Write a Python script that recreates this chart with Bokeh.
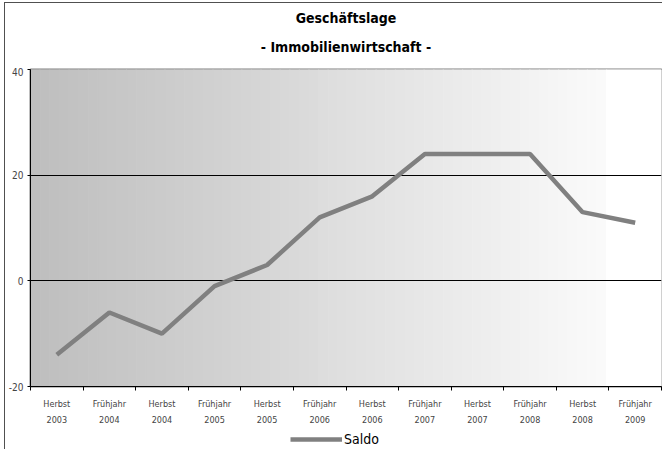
import numpy as np
from bokeh.plotting import figure
from bokeh.layouts import column
from bokeh.core.properties import value
from bokeh.models import FixedTicker, Range1d, Legend, LegendItem
from bokeh.embed import file_html
from bokeh.resources import INLINE

categories = ["Herbst\n2003", "Frühjahr\n2004", "Herbst\n2004", "Frühjahr\n2005",
              "Herbst\n2005", "Frühjahr\n2006", "Herbst\n2006", "Frühjahr\n2007",
              "Herbst\n2007", "Frühjahr\n2008", "Herbst\n2008", "Frühjahr\n2009"]
saldo = [-14, -6, -10, -1, 3, 12, 16, 24, 24, 24, 13, 11]
y_ticks = [-20, 0, 20, 40]
series_name = "Saldo"
title_lines = ["Geschäftslage", "- Immobilienwirtschaft -"]

FONT = "DejaVu Sans Condensed"
LINE_COLOR = "#808080"
W = 657

# ---------- title strip ----------
TH = 64
top = figure(width=W, height=TH, output_backend="svg", toolbar_location=None,
             x_range=Range1d(0, 1), y_range=Range1d(TH, 0),
             x_axis_type=None, y_axis_type=None, min_border=0)
top.grid.visible = False
top.outline_line_color = None
top.background_fill_color = "white"
top.border_fill_color = "white"
top.text(x=[0.5, 0.5], y=[14.5, 43.5], text=title_lines, text_align="center",
         text_baseline="middle", text_font=value(FONT), text_font_size="14px",
         text_font_style="bold", text_color="black")

# ---------- main chart ----------
xs = list(range(1, len(categories) + 1))
x0, x1 = 0.5, len(categories) + 0.5

p = figure(width=W, height=360, output_backend="svg", toolbar_location=None,
           x_range=Range1d(x0, x1), y_range=Range1d(-20, 40),
           min_border_left=24, min_border_right=1, min_border_top=2,
           min_border_bottom=38)
p.title = None

# gradient background (decorative)
n = 60
white_start = x0 + 0.913 * (x1 - x0)
edges = np.linspace(x0, white_start, n + 1)
cols = []
for i in range(n):
    v = int(round(190 + (250 - 190) * i / (n - 1)))
    cols.append("#%02x%02x%02x" % (v, v, v))
p.quad(left=edges[:-1], right=edges[1:], bottom=-20, top=40,
       fill_color=cols, line_color=cols, line_width=1, level="image")
p.quad(left=white_start, right=x1, bottom=-20, top=40, fill_color="white",
       line_color="white", level="image")

# grid
p.xgrid.visible = False
p.ygrid.ticker = FixedTicker(ticks=[0, 20])
p.ygrid.grid_line_color = "black"
p.ygrid.grid_line_width = 1

p.line(xs, saldo, line_color=LINE_COLOR, line_width=4.5)

p.outline_line_color = "#808080"
p.outline_line_width = 2

# axes
p.xaxis.ticker = FixedTicker(ticks=xs, minor_ticks=[i + 0.5 for i in range(0, len(xs) + 1)])
p.xaxis.major_label_overrides = {i + 1: c for i, c in enumerate(categories)}
p.xaxis.major_tick_line_color = None
p.xaxis.minor_tick_line_color = "black"
p.xaxis.minor_tick_out = 4
p.xaxis.minor_tick_in = 0
p.xaxis.major_label_text_font = FONT
p.xaxis.major_label_text_font_size = "9px"
p.xaxis.major_label_text_line_height = 1.6
p.xaxis.major_label_standoff = 6
p.xaxis.axis_line_color = "black"

p.yaxis.ticker = FixedTicker(ticks=y_ticks)
p.yaxis.major_label_overrides = {t: str(t) for t in y_ticks}
p.yaxis.minor_tick_line_color = None
p.yaxis.major_tick_out = 3
p.yaxis.major_tick_in = 0
p.yaxis.major_label_text_font = FONT
p.yaxis.major_label_text_font_size = "10px"
p.yaxis.major_label_standoff = 4
p.yaxis.axis_line_color = "black"

p.background_fill_color = "white"
p.border_fill_color = "white"

# ---------- legend strip ----------
leg = figure(width=W, height=22, output_backend="svg", toolbar_location=None,
             x_range=Range1d(0, 1), y_range=Range1d(0, 1),
             x_axis_type=None, y_axis_type=None, min_border=0)
leg.grid.visible = False
leg.outline_line_color = None
leg.background_fill_color = "white"
leg.border_fill_color = "white"
# renderer kept outside the visible range: only its legend swatch is shown
lr = leg.line([5, 6], [5, 5], line_color=LINE_COLOR, line_width=4.5)
legend = Legend(items=[LegendItem(label=series_name, renderers=[lr])], orientation="horizontal",
                location=(260, 2), border_line_color=None, background_fill_alpha=0,
                label_text_font=FONT, label_text_font_size="14px", label_text_color="black",
                glyph_width=52, glyph_height=12, padding=0, margin=0, label_standoff=2)
leg.add_layout(legend, "center")

layout = column(top, p, leg, spacing=0,
                styles={"margin-left": "4px", "margin-top": "2px",
                        "border-left": "1.5px solid #505050",
                        "border-top": "1.5px solid #505050"})

open("out.html", "w").write(file_html(layout, INLINE))
